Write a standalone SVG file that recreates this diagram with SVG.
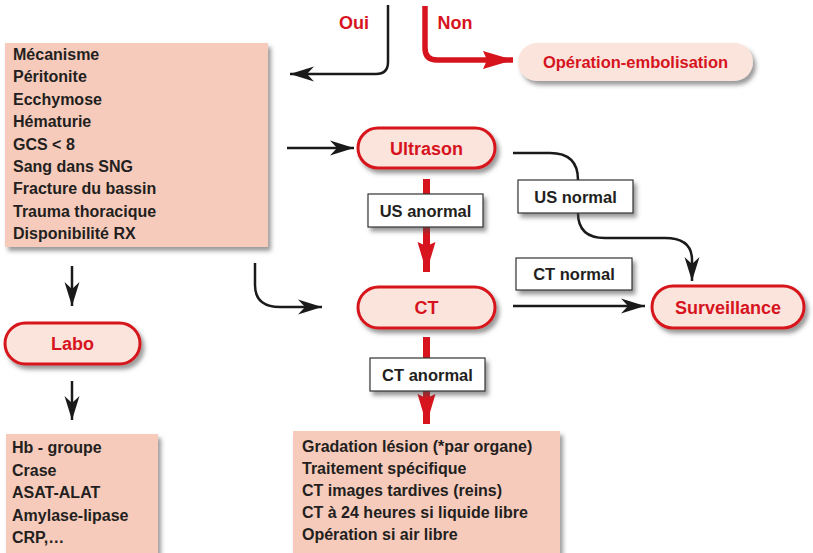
<svg xmlns="http://www.w3.org/2000/svg" width="813" height="553" viewBox="0 0 813 553">
<defs>
<filter id="sh" x="-20%" y="-20%" width="150%" height="160%">
<feDropShadow dx="3" dy="4" stdDeviation="2.2" flood-color="#4a4a4a" flood-opacity="0.55"/>
</filter>
<marker id="ab" markerUnits="userSpaceOnUse" markerWidth="30" markerHeight="20" viewBox="-26 -10 28 20" refX="0" refY="0" orient="auto">
<path d="M0,0 L-24,-7.5 L-17,0 L-24,7.5 Z" fill="#1a1a1a"/>
</marker>
<marker id="ar" markerUnits="userSpaceOnUse" markerWidth="36" markerHeight="24" viewBox="-32 -12 34 24" refX="0" refY="0" orient="auto">
<path d="M0,0 L-30,-9 L-26,0 L-30,9 Z" fill="#d7141e"/>
</marker>
</defs>
<style>
.box{fill:#f7cbbb;filter:url(#sh)}
.pill{fill:#fae4dc;stroke:#d7141e;stroke-width:3;filter:url(#sh)}
.pilln{fill:#fae4dc;filter:url(#sh)}
.lbl{fill:#ffffff;stroke:#333333;stroke-width:1.2;filter:url(#sh)}
text{font-family:"Liberation Sans",Arial,sans-serif;font-weight:bold}
.lt{font-size:16px;fill:#231f20}
.rt{font-size:18px;fill:#d7141e;text-anchor:middle}
.bt{font-size:16.5px;fill:#231f20;text-anchor:middle}
.blk{fill:none;stroke:#1a1a1a;stroke-width:2.5}
.red{fill:none;stroke:#d7141e;stroke-width:7}
</style>

<g id="connectors">
<path class="blk" d="M388,5 V62 Q388,74 376,74 H290" marker-end="url(#ab)"/>
<path d="M425,6 V48 Q425,60 437,60 H513" fill="none" stroke="#d7141e" stroke-width="5.5" marker-end="url(#ar)"/>
<path class="blk" d="M287,148 H354" marker-end="url(#ab)"/>
<path class="red" d="M426.5,179 V272" marker-end="url(#ar)"/>
<path class="blk" d="M513,153 H550 Q578,153 578,180"/>
<path class="blk" d="M578,213 Q578,238 605,238 H665 Q692,238 692,260 V281" marker-end="url(#ab)"/>
<path class="blk" d="M513,306 H645" marker-end="url(#ab)"/>
<path class="red" d="M426.5,337 V424" marker-end="url(#ar)"/>
<path class="blk" d="M255,263 V285 Q255,307 280,307 H322" marker-end="url(#ab)"/>
<path class="blk" d="M72,266 V306" marker-end="url(#ab)"/>
<path class="blk" d="M72,381 V420" marker-end="url(#ab)"/>
</g>

<g id="oui"><text x="354" y="29" class="rt">Oui</text></g>
<g id="non"><text x="455" y="29" class="rt">Non</text></g>

<g id="criteres">
<rect class="box" x="5" y="43" width="263" height="204"/>
<text class="lt" x="13"><tspan x="13" y="60">Mécanisme</tspan><tspan x="13" y="82.4">Péritonite</tspan><tspan x="13" y="104.8">Ecchymose</tspan><tspan x="13" y="127.2">Hématurie</tspan><tspan x="13" y="149.6">GCS &lt; 8</tspan><tspan x="13" y="172">Sang dans SNG</tspan><tspan x="13" y="194.4">Fracture du bassin</tspan><tspan x="13" y="216.8">Trauma thoracique</tspan><tspan x="13" y="239.2">Disponibilité RX</tspan></text>
</g>

<g id="operation">
<rect class="pilln" x="518" y="43" width="235" height="38" rx="19"/>
<text x="635.5" y="68" class="rt" style="font-size:16.5px">Opération-embolisation</text>
</g>

<g id="ultrason">
<rect class="pill" x="358" y="128" width="137" height="40" rx="20"/>
<text x="426.5" y="154.5" class="rt">Ultrason</text>
</g>

<g id="us-anormal">
<rect class="lbl" x="368" y="194" width="115" height="33"/>
<text x="425.5" y="216.5" class="bt">US anormal</text>
</g>

<g id="us-normal">
<rect class="lbl" x="518" y="180" width="115" height="33"/>
<text x="575.5" y="202.5" class="bt">US normal</text>
</g>

<g id="ct">
<rect class="pill" x="358" y="287" width="137" height="41" rx="20.5"/>
<text x="426.5" y="314" class="rt">CT</text>
</g>

<g id="ct-normal">
<rect class="lbl" x="516" y="258" width="116" height="32"/>
<text x="574" y="280" class="bt">CT normal</text>
</g>

<g id="surveillance">
<rect class="pill" x="652" y="286" width="152" height="42" rx="21"/>
<text x="728" y="313.5" class="rt">Surveillance</text>
</g>

<g id="ct-anormal">
<rect class="lbl" x="370" y="358" width="115" height="33"/>
<text x="427.5" y="380.5" class="bt">CT anormal</text>
</g>

<g id="labo">
<rect class="pill" x="5" y="323" width="135" height="41" rx="20.5"/>
<text x="72.5" y="350" class="rt">Labo</text>
</g>

<g id="bilan">
<rect class="box" x="6" y="434" width="152" height="125"/>
<text class="lt"><tspan x="12" y="453">Hb - groupe</tspan><tspan x="12" y="475.5">Crase</tspan><tspan x="12" y="498">ASAT-ALAT</tspan><tspan x="12" y="520.5">Amylase-lipase</tspan><tspan x="12" y="543">CRP,…</tspan></text>
</g>

<g id="actions">
<rect class="box" x="293" y="431" width="267" height="128"/>
<text class="lt"><tspan x="302" y="452">Gradation lésion (*par organe)</tspan><tspan x="302" y="474">Traitement spécifique</tspan><tspan x="302" y="496">CT images tardives (reins)</tspan><tspan x="302" y="518">CT à 24 heures si liquide libre</tspan><tspan x="302" y="540">Opération si air libre</tspan></text>
</g>
</svg>
